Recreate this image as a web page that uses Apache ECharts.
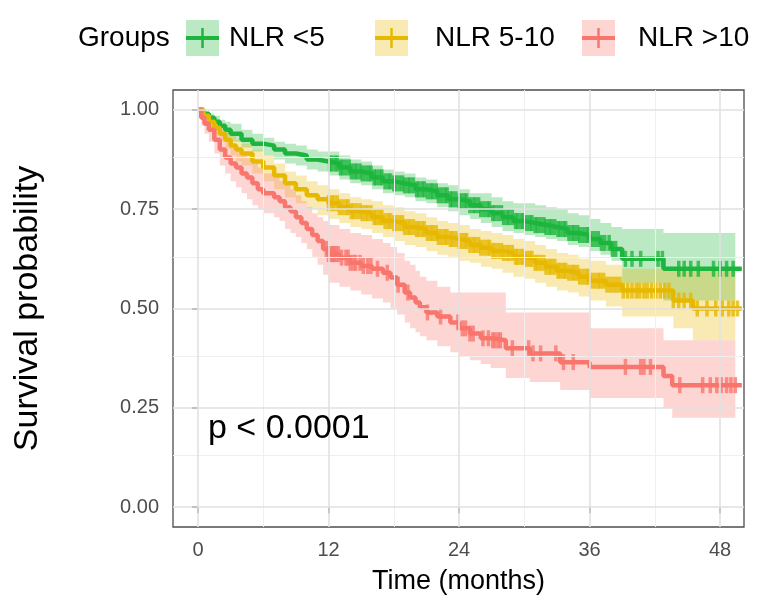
<!DOCTYPE html>
<html lang="en">
<head>
    <meta charset="UTF-8">
    <title>Survival by NLR group</title>
    <style>
        html, body { margin: 0; padding: 0; background: #fff; }
        #chart { width: 760px; height: 608px; }
    </style>
    <script src="https://cdn.jsdelivr.net/npm/echarts@6/dist/echarts.min.js"></script>
</head>
<body>
    <div id="chart"></div>
    <script>
        // group names + colours
        const groupNames = ['NLR <5', 'NLR 5-10', 'NLR >10'];
        const groupColors = ['#1db53d', '#e7b800', '#f8766d'];

        // NLR <5 : km steps, 95% CI, censored times
        const lowTime  = [0, .5, 1, 1.5, 2, 2.5, 3, 4, 5, 6, 7, 8, 9, 10, 11, 12, 13, 14, 15, 16, 17, 18, 19, 20, 21, 22, 23, 24, 25, 26, 27, 28, 29, 30, 31, 32, 33, 34, 35, 36, 37, 38, 39, 42.8, 49.4, 50];
        const lowSurv  = [1, .99, .98, .97, .96, .95, .94, .925, .915, .91, .90, .89, .885, .875, .87, .865, .855, .845, .84, .83, .82, .815, .81, .80, .795, .785, .775, .77, .76, .75, .74, .73, .72, .715, .71, .705, .70, .69, .685, .675, .665, .65, .625, .60, .60, .60];
        const lowLower = [1, .98, .97, .955, .94, .93, .92, .905, .895, .885, .875, .865, .86, .85, .845, .835, .825, .815, .81, .80, .79, .785, .78, .77, .765, .755, .745, .735, .725, .715, .705, .695, .69, .685, .68, .675, .67, .66, .655, .645, .635, .62, .565, .52, .52, null];
        const lowUpper = [1, .995, .99, .985, .975, .97, .965, .95, .94, .93, .92, .915, .91, .90, .895, .895, .885, .875, .87, .86, .85, .845, .84, .83, .825, .815, .81, .80, .79, .79, .78, .77, .765, .765, .76, .755, .75, .74, .735, .725, .715, .705, .70, .69, .69, null];
        const lowCensor = [12.1, 12.3, 12.6, 12.8, 13.1, 13.3, 13.6, 13.9, 14.1, 14.4, 14.6, 14.9, 15.1, 15.4, 15.7, 15.9, 16.2, 16.4, 16.7, 16.9, 17.2, 17.5, 17.7, 18.0, 18.2, 18.5, 18.8, 19.0, 19.3, 19.5, 19.8, 20.1, 20.3, 20.6, 20.8, 21.1, 21.4, 21.6, 21.9, 22.1, 22.4, 22.7, 22.9, 23.2, 23.4, 23.7, 24.0, 24.2, 24.5, 24.7, 25.0, 25.3, 25.5, 25.8, 26.0, 26.3, 26.6, 26.8, 27.1, 27.3, 27.6, 27.9, 28.1, 28.4, 28.6, 28.9, 29.2, 29.4, 29.7, 29.9, 30.2, 30.5, 30.7, 31.0, 31.2, 31.5, 31.8, 32.0, 32.3, 32.5, 32.8, 33.1, 33.3, 33.6, 33.8, 34.1, 34.4, 34.6, 34.9, 35.1, 35.4, 35.7, 35.9, 36.2, 36.5, 36.8, 37.1, 37.4, 37.8, 38.1, 38.4, 39.3, 39.9, 40.7, 42.3, 42.7, 44.2, 44.7, 45.3, 46.0, 47.4, 48.0, 48.6, 49.2];

        // NLR 5-10
        const midTime  = [0, .5, 1, 1.5, 2, 2.5, 3, 3.5, 4, 5, 6, 7, 8, 9, 10, 11, 12, 13, 14, 15, 16, 17, 18, 19, 20, 21, 22, 23, 24, 25, 26, 27, 28, 29, 30, 31, 32, 33, 34, 35, 36, 37.5, 39, 43.7, 45.5, 49.4, 50];
        const midSurv  = [1, .985, .97, .955, .94, .925, .91, .90, .89, .87, .855, .835, .815, .80, .785, .775, .765, .755, .745, .74, .73, .72, .715, .705, .70, .69, .68, .675, .67, .66, .653, .645, .64, .63, .625, .615, .605, .595, .59, .58, .57, .56, .545, .52, .50, .50, .50];
        const midLower = [1, .97, .955, .935, .92, .90, .885, .87, .86, .84, .82, .80, .78, .765, .75, .735, .725, .715, .705, .70, .69, .68, .67, .66, .655, .645, .635, .63, .62, .615, .605, .60, .59, .58, .575, .565, .555, .545, .54, .53, .52, .505, .48, .45, .42, .42, null];
        const midUpper = [1, .995, .985, .975, .96, .95, .935, .925, .915, .90, .885, .865, .845, .835, .82, .81, .80, .79, .78, .775, .77, .76, .755, .745, .74, .73, .72, .715, .71, .70, .695, .69, .685, .675, .67, .66, .65, .64, .635, .625, .62, .61, .60, .60, .60, .60, null];
        const midCensor = [12.0, 12.3, 12.5, 12.8, 13.0, 13.3, 13.6, 13.8, 14.1, 14.3, 14.6, 14.9, 15.1, 15.4, 15.6, 15.9, 16.2, 16.4, 16.7, 16.9, 17.2, 17.5, 17.7, 18.0, 18.2, 18.5, 18.8, 19.0, 19.3, 19.5, 19.8, 20.1, 20.3, 20.6, 20.8, 21.1, 21.4, 21.6, 21.9, 22.1, 22.4, 22.7, 22.9, 23.2, 23.4, 23.7, 24.0, 24.2, 24.5, 24.7, 25.0, 25.3, 25.5, 25.8, 26.0, 26.3, 26.6, 26.8, 27.1, 27.3, 27.6, 27.9, 28.1, 28.4, 28.6, 28.9, 29.2, 29.4, 29.7, 29.9, 30.2, 30.5, 30.7, 31.0, 31.2, 31.5, 31.8, 32.0, 32.3, 32.5, 32.8, 33.1, 33.3, 33.6, 33.8, 34.1, 34.4, 34.6, 34.9, 35.1, 35.4, 35.7, 35.9, 36.2, 36.5, 36.8, 37.0, 37.3, 37.6, 37.9, 38.2, 38.5, 38.8, 39.1, 39.5, 39.9, 40.3, 40.6, 41.0, 41.3, 41.7, 42.1, 42.5, 42.9, 43.3, 43.7, 44.2, 44.7, 45.3, 45.9, 46.8, 47.6, 48.2, 48.8, 49.2, 49.6];

        // NLR >10
        const highTime  = [0, .3, .6, 1, 1.5, 2, 2.5, 3, 3.5, 4, 4.5, 5, 5.5, 6, 7, 7.5, 8, 8.5, 9, 9.5, 10, 10.5, 11, 11.5, 12, 13, 14, 15, 16, 17, 17.7, 18.3, 19, 19.5, 20, 20.4, 21, 22, 23.2, 24, 25, 26, 26.9, 28.3, 30.5, 33.3, 36, 42.8, 43.6, 49.4, 50];
        const highSurv  = [1, .98, .965, .95, .925, .90, .88, .865, .855, .84, .83, .815, .80, .79, .78, .77, .755, .745, .73, .715, .70, .685, .67, .65, .637, .628, .615, .607, .60, .59, .578, .56, .54, .528, .515, .503, .49, .48, .465, .45, .437, .425, .42, .40, .387, .365, .353, .33, .307, .307, .307];
        const highLower = [1, .96, .94, .92, .89, .86, .84, .82, .805, .79, .775, .76, .75, .74, .73, .72, .70, .69, .68, .665, .65, .63, .61, .585, .565, .555, .545, .535, .525, .515, .50, .485, .465, .45, .44, .43, .42, .405, .39, .38, .37, .36, .35, .325, .315, .295, .275, .25, .225, .225, null];
        const highUpper = [1, .995, .985, .98, .96, .94, .925, .91, .90, .89, .88, .87, .855, .84, .83, .82, .81, .80, .785, .77, .755, .74, .73, .72, .71, .70, .69, .685, .675, .665, .655, .64, .62, .61, .595, .58, .57, .555, .54, .54, .54, .54, .54, .49, .49, .49, .45, .42, .42, .42, null];
        const highCensor = [11.8, 12.0, 12.2, 12.4, 12.5, 12.7, 12.9, 13.2, 13.6, 13.8, 14.0, 14.3, 14.5, 14.9, 15.2, 15.6, 15.9, 16.5, 17.4, 18.4, 19.3, 21.1, 22.3, 23.9, 24.3, 24.6, 25.0, 25.3, 26.2, 26.7, 27.1, 27.3, 27.6, 27.8, 28.9, 30.4, 30.8, 31.5, 32.9, 33.6, 34.5, 39.3, 40.7, 41.0, 41.6, 44.3, 46.4, 47.1, 47.7, 48.1, 48.6, 49.0, 49.4];

        // axis ticks / grid lines
        const xTicks = [0, 12, 24, 36, 48];
        const xMinor = [6, 18, 30, 42];
        const yTicks = [0, 0.25, 0.5, 0.75, 1];
        const yMinor = [0.125, 0.375, 0.625, 0.875];
        const pValueText = 'p < 0.0001';

        const font = '"Liberation Sans", Arial, Helvetica, sans-serif';

        const groups = [
            { time: lowTime, surv: lowSurv, lower: lowLower, upper: lowUpper, censor: lowCensor },
            { time: midTime, surv: midSurv, lower: midLower, upper: midUpper, censor: midCensor },
            { time: highTime, surv: highSurv, lower: highLower, upper: highUpper, censor: highCensor }
        ];

        // survival value at time t (right-continuous step)
        function survAt(g, t) {
            let v = g.surv[0];
            for (let i = 0; i < g.time.length; i++) {
                if (g.time[i] <= t) v = g.surv[i];
            }
            return v;
        }

        const chart = echarts.init(document.getElementById('chart'));

        const series = [];

        // grid lines (drawn through the axes so they sit on the real scale)
        series.push({
            type: 'line',
            data: [],
            silent: true,
            z: 1,
            markLine: {
                silent: true,
                symbol: ['none', 'none'],
                label: { show: false },
                animation: false,
                data: [].concat(
                    xMinor.map(v => ({ xAxis: v, lineStyle: { color: '#efefef', width: 1, type: 'solid' } })),
                    yMinor.map(v => ({ yAxis: v, lineStyle: { color: '#efefef', width: 1, type: 'solid' } })),
                    xTicks.map(v => ({ xAxis: v, lineStyle: { color: '#e1e1e1', width: 1.6, type: 'solid' } })),
                    yTicks.map(v => ({ yAxis: v, lineStyle: { color: '#e1e1e1', width: 1.6, type: 'solid' } }))
                )
            }
        });

        // confidence bands as stepped polygons
        series.push({
            type: 'custom',
            coordinateSystem: 'cartesian2d',
            silent: true,
            z: 2,
            data: groups.map(g => [g.time[0], g.surv[0]]),
            renderItem: function (params, api) {
                const k = params.dataIndex;
                const g = groups[k];
                const idx = g.time.map((t, i) => i).filter(i => g.lower[i] != null);
                const top = [], bottom = [];
                for (let j = 0; j < idx.length; j++) {
                    const i = idx[j];
                    const tNext = j < idx.length - 1 ? g.time[idx[j + 1]] : g.time[i];
                    top.push(api.coord([g.time[i], g.upper[i]]), api.coord([tNext, g.upper[i]]));
                    bottom.push(api.coord([g.time[i], g.lower[i]]), api.coord([tNext, g.lower[i]]));
                }
                return {
                    type: 'polygon',
                    shape: { points: top.concat(bottom.reverse()) },
                    style: { fill: echarts.color.modifyAlpha(groupColors[k], 0.3) }
                };
            }
        });

        // survival curves
        groups.forEach((g, k) => {
            series.push({
                name: groupNames[k], type: 'line', step: 'end', symbol: 'none', z: 3,
                lineStyle: { width: 4.5, color: groupColors[k] },
                itemStyle: { color: groupColors[k] },
                data: g.time.map((t, i) => [t, g.surv[i]])
            });
        });

        // censor marks
        groups.forEach((g, k) => {
            series.push({
                type: 'scatter', symbol: 'rect', symbolSize: [3.5, 16], z: 4,
                itemStyle: { color: groupColors[k] },
                data: g.censor.map(t => [t, survAt(g, t)])
            });
        });

        // legend drawn as graphic: band box + line + cross tick
        const legendBoxX = [186, 375, 582];
        const legendTextX = [229, 435, 638];
        const legendGraphics = [{
            type: 'text', left: 78, top: 24,
            style: { text: 'Groups', font: '28px ' + font, fill: '#000' }
        }];
        groupNames.forEach((n, k) => {
            const x = legendBoxX[k];
            legendGraphics.push({
                type: 'rect', shape: { x: x, y: 20, width: 33, height: 36 },
                style: { fill: groupColors[k], opacity: 0.3 }
            });
            legendGraphics.push({
                type: 'line', shape: { x1: x, y1: 38, x2: x + 33, y2: 38 },
                style: { stroke: groupColors[k], lineWidth: 4 }
            });
            legendGraphics.push({
                type: 'line', shape: { x1: x + 16.5, y1: 28, x2: x + 16.5, y2: 48 },
                style: { stroke: groupColors[k], lineWidth: 2.5 }
            });
            legendGraphics.push({
                type: 'text', left: legendTextX[k], top: 24,
                style: { text: n, font: '28px ' + font, fill: '#000' }
            });
        });
        legendGraphics.push({
            type: 'text', left: 208, top: 412, z: 10,
            style: { text: pValueText, font: '34px ' + font, fill: '#000' }
        });

        const option = {
            animation: false,
            backgroundColor: '#fff',
            textStyle: { fontFamily: font },
            grid: {
                left: 173, right: 16, top: 90, bottom: 81,
                show: true, borderColor: '#4d4d4d', borderWidth: 1.3, backgroundColor: 'transparent'
            },
            xAxis: {
                type: 'value', min: -2.3, max: 50.2,
                name: 'Time (months)', nameLocation: 'middle', nameGap: 41,
                nameTextStyle: { fontSize: 27, color: '#000', fontFamily: font },
                axisLine: { show: false },
                axisTick: { show: true, customValues: xTicks, length: 6, lineStyle: { color: '#333', width: 1.5 } },
                axisLabel: { customValues: xTicks, fontSize: 20, color: '#4d4d4d', margin: 13, fontFamily: font },
                splitLine: { show: false }
            },
            yAxis: {
                type: 'value', min: -0.05, max: 1.05,
                name: 'Survival probability', nameLocation: 'middle', nameGap: 128,
                nameTextStyle: { fontSize: 34, color: '#000', fontFamily: font },
                axisLine: { show: false },
                axisTick: { show: true, customValues: yTicks, length: 6, lineStyle: { color: '#333', width: 1.5 } },
                axisLabel: { customValues: yTicks, fontSize: 20, color: '#4d4d4d', margin: 14, fontFamily: font,
                    formatter: v => v.toFixed(2) },
                splitLine: { show: false }
            },
            graphic: legendGraphics,
            series: series
        };

        chart.setOption(option);
    </script>
</body>
</html>
